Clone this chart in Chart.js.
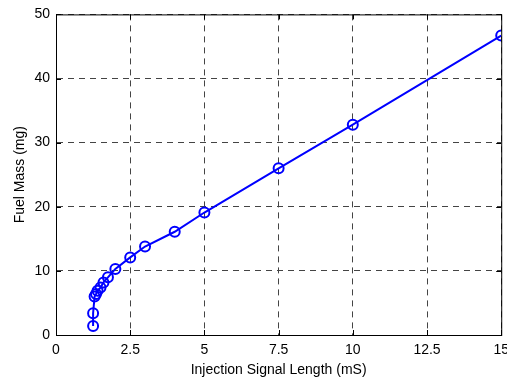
<!DOCTYPE html>
<html>
<head>
<meta charset="utf-8">
<script src="https://cdn.jsdelivr.net/npm/chart.js@4/dist/chart.umd.min.js"></script>
<style>
  html, body { margin: 0; padding: 0; background: #fff; overflow: hidden; }
  #wrap { width: 516px; height: 379px; }
</style>
</head>
<body>
<div id="wrap"><canvas id="fuelChart"></canvas></div>
<script>
// data
const signalLength = [1.25, 1.25, 1.3, 1.35, 1.4, 1.5, 1.6, 1.75, 2, 2.5, 3, 4, 5, 7.5, 10, 15];
const fuelMass = [1.4, 3.4, 6.0, 6.4, 6.9, 7.4, 8.2, 9.0, 10.3, 12.1, 13.8, 16.1, 19.1, 26.0, 32.8, 46.7];
const xTicks = [0, 2.5, 5, 7.5, 10, 12.5, 15];
const yTicks = [0, 10, 20, 30, 40, 50];

const points = signalLength.map((x, i) => ({ x: x, y: fuelMass[i] }));

const labelFont = { family: 'Liberation Sans', size: 14 };

// box round the plot + small inward ticks, matlab style
const boxPlugin = {
    id: 'box',
    afterDraw(chart) {
        const { ctx, chartArea: a, scales } = chart;
        ctx.save();
        ctx.strokeStyle = '#000';
        ctx.lineWidth = 1;
        ctx.strokeRect(a.left + 0.5, a.top + 0.5, a.right - a.left, a.bottom - a.top);
        ctx.beginPath();
        xTicks.forEach(v => {
            const px = Math.round(scales.x.getPixelForValue(v)) + 0.5;
            ctx.moveTo(px, a.bottom); ctx.lineTo(px, a.bottom - 5);
            ctx.moveTo(px, a.top); ctx.lineTo(px, a.top + 5);
        });
        yTicks.forEach(v => {
            const py = Math.round(scales.y.getPixelForValue(v)) + 0.5;
            ctx.moveTo(a.left, py); ctx.lineTo(a.left + 5, py);
            ctx.moveTo(a.right, py); ctx.lineTo(a.right - 5, py);
        });
        ctx.stroke();
        ctx.restore();
    }
};

const fuelData = {
    datasets: [{
        label: 'Fuel Mass',
        data: points,
        showLine: true,
        borderColor: '#0000ff',
        backgroundColor: 'rgba(0,0,0,0)',
        borderWidth: 2,
        pointStyle: 'circle',
        pointRadius: 5,
        pointBorderWidth: 2,
        pointBorderColor: '#0000ff',
        pointBackgroundColor: 'rgba(0,0,0,0)',
        tension: 0
    }]
};

const gridStyle = {
    color: '#444',
    lineWidth: 1,
    drawTicks: false
};

const fuelOptions = {
    responsive: true,
    maintainAspectRatio: false,
    animation: false,
    layout: { padding: { top: 14, right: 0, left: 0, bottom: 0 } },
    plugins: {
        legend: { display: false },
        tooltip: { enabled: false }
    },
    scales: {
        x: {
            type: 'linear',
            min: 0,
            max: 15,
            afterBuildTicks: axis => { axis.ticks = xTicks.map(v => ({ value: v })); },
            afterFit: axis => { axis.height = 44; },
            grid: gridStyle,
            border: { display: true, color: '#000', dash: [6, 5] },
            ticks: {
                color: '#000',
                font: labelFont,
                padding: 7,
                maxRotation: 0,
                callback: v => String(v)
            },
            title: {
                display: true,
                text: 'Injection Signal Length (mS)',
                color: '#000',
                font: labelFont,
                padding: { top: 0, bottom: 0 }
            }
        },
        y: {
            type: 'linear',
            min: 0,
            max: 50,
            afterBuildTicks: axis => { axis.ticks = yTicks.map(v => ({ value: v })); },
            afterFit: axis => { axis.width = 56; },
            grid: gridStyle,
            border: { display: true, color: '#000', dash: [6, 5] },
            ticks: {
                color: '#000',
                font: labelFont,
                padding: 6
            },
            title: {
                display: true,
                text: 'Fuel Mass (mg)',
                color: '#000',
                font: labelFont,
                padding: { top: 12, bottom: 0 }
            }
        }
    }
};

const fuelChart = new Chart(document.getElementById('fuelChart'), {
    type: 'scatter',
    data: fuelData,
    options: fuelOptions,
    plugins: [boxPlugin]
});
</script>
</body>
</html>
